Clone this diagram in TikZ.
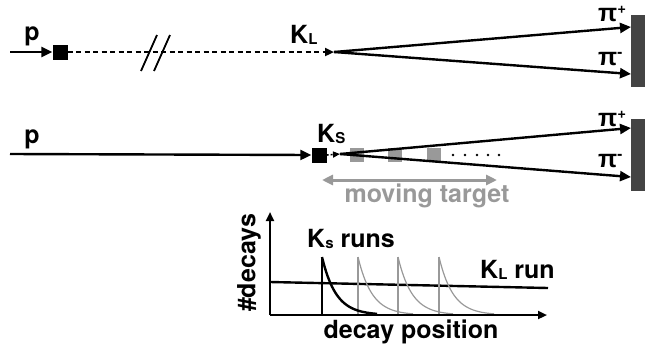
\documentclass[tikz,border=0pt]{standalone}
\usepackage{fontspec}
\setmainfont{TeX Gyre Heros}
\newfontfamily\pifont{Liberation Sans}
\usetikzlibrary{arrows.meta}
\newcommand\mysubsc[1]{\raisebox{-1pt}{\fontsize{15}{15}\selectfont #1}}
\newcommand\mysupsc[1]{\raisebox{8pt}{\fontsize{15}{15}\selectfont #1}}
\definecolor{detgray}{HTML}{444444}
\definecolor{lgray}{HTML}{999999}
\begin{document}
\begin{tikzpicture}[x=1pt,y=-1pt,
  lbl/.style={font=\fontsize{25}{28}\selectfont\bfseries, inner sep=0pt},
  tipbig/.style={-{Triangle[length=11pt,width=10pt]}},
  beam/.style={line width=2.4pt, tipbig},
  dashbeam/.style={line width=2.4pt, dash pattern=on 5pt off 3.5pt, -{Triangle[length=9pt,width=8pt]}},
  dotbeam/.style={line width=1.6pt, dash pattern=on 2pt off 2pt, -{Triangle[length=7pt,width=6pt]}},
  blk/.style={draw=none, fill=black, minimum size=15pt, inner sep=0pt},
  gsq/.style={draw=none, fill=lgray, minimum size=14pt, inner sep=0pt},
  det/.style={draw=none, fill=detgray, minimum width=14pt, minimum height=72pt, inner sep=0pt},
  axis/.style={line width=2.2pt, -{Triangle[length=9pt,width=8pt]}},
  grayarr/.style={line width=3pt, lgray, {Triangle[length=11pt,width=10pt]}-{Triangle[length=11pt,width=10pt]}},
]
\useasboundingbox (0,0) rectangle (664,354);

% ---------- row 1 : K_L ----------
\coordinate (p1s) at (10,52);
\node[blk] (sq1) at (60,52) {};
\coordinate (v1) at (334,52);
\node[det] (d1) at (638,51) {};
\coordinate (pp1) at (631,27);
\coordinate (pm1) at (631,74);
\draw[beam] (p1s) -- (sq1.west);
\draw[dashbeam] (sq1.east) -- (v1);
\draw[line width=1.8pt] (141,71) -- (157,35);
\draw[line width=1.8pt] (154,71) -- (170,35);
\draw[beam] (v1) -- (pp1);
\draw[beam] (v1) -- (pm1);
\node[lbl, anchor=base] (lp1) at (32,40) {p};
\node[lbl, anchor=base west] (lkl) at (290,43) {K\mysubsc{L}};
\node[lbl, anchor=base west] (lpip1) at (598,21) {{\pifont π}\mysupsc{+}};
\node[lbl, anchor=base west] (lpim1) at (598,65) {{\pifont π}\mysupsc{-}};

% ---------- row 2 : K_S ----------
\coordinate (p2s) at (10,154);
\node[blk] (sq2) at (319,155) {};
\coordinate (v2) at (340,154);
\node[det] (d2) at (638,155) {};
\coordinate (pp2) at (631,128);
\coordinate (pm2) at (631,177);
\node[gsq] (g1) at (357,155) {};
\node[gsq] (g2) at (395,155) {};
\node[gsq] (g3) at (434,155) {};
\foreach \xx in {453,465,477,488,499} \fill (\xx,155) circle (1.3pt);
\draw[beam] (p2s) -- (sq2.west);
\draw[dotbeam] (sq2.east) -- (v2);
\draw[beam] (v2) -- (pp2);
\draw[beam] (v2) -- (pm2);
\node[lbl, anchor=base] (lp2) at (32,143) {p};
\node[lbl, anchor=base west] (lks) at (317,142) {K\mysubsc{S}};
\node[lbl, anchor=base west] (lpip2) at (598,126) {{\pifont π}\mysupsc{+}};
\node[lbl, anchor=base west] (lpim2) at (598,167) {{\pifont π}\mysupsc{-}};
\coordinate (mtl) at (322,180);
\coordinate (mtr) at (497,180);
\draw[grayarr] (mtl) -- (mtr);
\node[lbl, lgray, anchor=base] (lmt) at (427,202) {moving target};

% ---------- bottom plot ----------
\coordinate (o) at (270,315);
\coordinate (ya) at (270,212);
\coordinate (xa) at (547,315);
\coordinate (kl0) at (270,282);
\coordinate (kl1) at (548,288);
\draw[line width=2.4pt] (kl0) -- (kl1);
\foreach \xx in {358,398,439}{
  \draw[lgray, line width=1.2pt] (\xx,315) -- (\xx,257);
  \draw[lgray, line width=1.2pt] plot[domain=0:55, samples=40] ({\xx+\x},{315-58*exp(-\x/14)});
}
\coordinate (ks0) at (322,315);
\coordinate (ks1) at (322,257);
\draw[line width=2.4pt] (ks0) -- (ks1);
\draw[line width=2.4pt] plot[domain=0:55, samples=40] ({322+\x},{315-58*exp(-\x/14)});
\draw[axis] (o) -- (ya);
\draw[axis] (o) -- (xa);
\node[lbl, rotate=90] (ldec) at (249,263) {\#decays};
\node[lbl, anchor=base west] (lksr) at (307,247) {K\mysubsc{s} runs};
\node[lbl, anchor=base west] (lklr) at (480,278) {K\mysubsc{L} run};
\node[lbl, anchor=base] (lpos) at (411,338) {decay position};
\end{tikzpicture}
\end{document}
